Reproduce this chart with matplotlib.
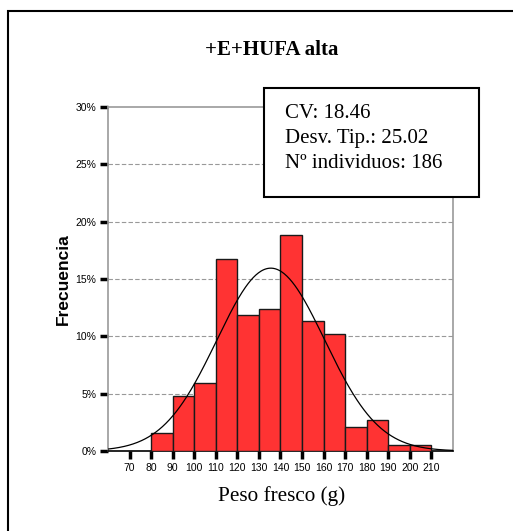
import numpy as np
import matplotlib
matplotlib.use("Agg")
import matplotlib.pyplot as plt
from matplotlib.patches import Rectangle

# bin edges (g) and percent of fish in each bin
bin_left = [80, 90, 100, 110, 120, 130, 140, 150, 160, 170, 180, 190, 200]
pct = [1.6, 4.8, 5.9, 16.7, 11.9, 12.4, 18.8, 11.3, 10.2, 2.1, 2.7, 0.5, 0.5]
bin_w = 10

x_ticks = [70, 80, 90, 100, 110, 120, 130, 140, 150, 160, 170, 180, 190, 200, 210]
y_ticks = [0, 5, 10, 15, 20, 25, 30]

mean_w = 135.5
sd_w = 25.02
cv = 18.46
n_fish = 186

fig = plt.figure(figsize=(5.13, 5.31), dpi=100)
ax = fig.add_axes([0.2105, 0.1507, 0.6725, 0.6478])

ax.bar(bin_left, pct, width=bin_w, align="edge", color="#ff3333",
       edgecolor="#1a1a1a", linewidth=1.0, zorder=3)

# fitted normal curve
xc = np.linspace(60, 220, 400)
yc = 100 * bin_w * np.exp(-0.5 * ((xc - mean_w) / sd_w) ** 2) / (sd_w * np.sqrt(2 * np.pi))
ax.plot(xc, yc, color="black", linewidth=0.9, zorder=4)

ax.set_xlim(60, 220)
ax.set_ylim(0, 30)
ax.set_xticks(x_ticks)
ax.set_xticklabels([str(v) for v in x_ticks], fontsize=7.5, family="Liberation Sans")
ax.set_yticks(y_ticks)
ax.set_yticklabels([f"{v}%" for v in y_ticks], fontsize=7.5, family="Liberation Sans")
ax.tick_params(axis="both", direction="out", length=6, width=2.5, color="black", pad=2.5)

for yv in y_ticks[1:-1]:
    ax.axhline(yv, color="#999999", linestyle=(0, (4, 2)), linewidth=0.8, zorder=1)

for s in ["left", "right", "top"]:
    ax.spines[s].set_color("#999999")
    ax.spines[s].set_linewidth(1.2)
ax.spines["bottom"].set_color("black")
ax.spines["bottom"].set_linewidth(1.2)

ax.set_ylabel("Frecuencia", fontsize=12.5, fontweight="bold", family="Liberation Sans", labelpad=3)

fig.text(0.530, 0.906, "+E+HUFA alta", ha="center", va="center",
         fontsize=15, fontweight="bold", family="Liberation Serif")
fig.text(0.548, 0.066, "Peso fresco (g)", ha="center", va="center",
         fontsize=15.3, family="Liberation Serif")

# outer frame (only top/left edges visible)
fig.add_artist(Rectangle((8 / 513, -0.05), 1.1, 1 - 11 / 531 + 0.05, transform=fig.transFigure,
                         fill=False, edgecolor="black", linewidth=1.5))

# stats box
fig.add_artist(Rectangle((0.5146, 0.629), 0.4191, 0.205, transform=fig.transFigure,
                         facecolor="white", edgecolor="black", linewidth=1.5, zorder=5))
stats_lines = [f"CV: {cv}", f"Desv. Tip.: {sd_w}", f"Nº individuos: {n_fish}"]
for i, line in enumerate(stats_lines):
    fig.text(0.5556, 0.786 - i * 0.0467, line, ha="left", va="center",
             fontsize=15, family="Liberation Serif", zorder=6)

fig.savefig("out.png", dpi=100)
